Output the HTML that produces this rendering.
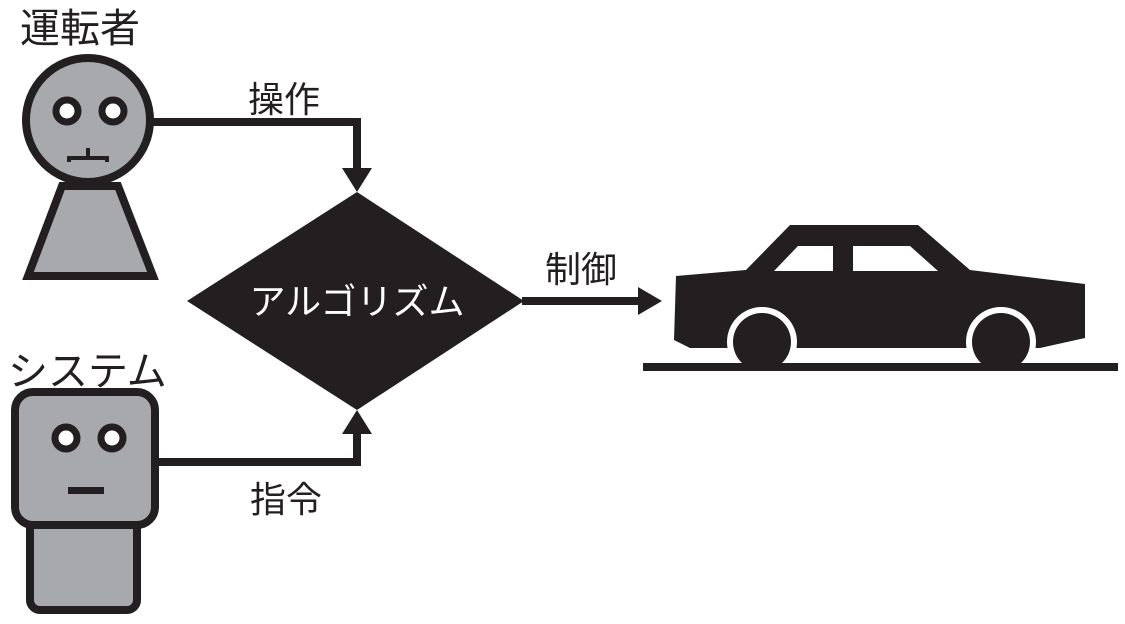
<!DOCTYPE html>
<html><head><meta charset="utf-8"><style>
html,body{margin:0;padding:0;background:#fff;}
svg text{font-family:"Liberation Sans","Noto Sans CJK JP",sans-serif;fill:#231f20;}
</style></head><body>
<svg width="1125" height="619" viewBox="0 0 1125 619" xmlns="http://www.w3.org/2000/svg">
<text x="20" y="42" font-size="40">運転者</text>
<text x="248" y="112" font-size="36">操作</text>
<text x="545" y="282" font-size="36">制御</text>
<text x="8" y="385" font-size="40">システム</text>
<text x="250" y="512" font-size="36">指令</text>
<!-- person -->
<polygon points="28,276 153,276 118,186 62,186" fill="#a7a9ac" stroke="#231f20" stroke-width="8" stroke-linejoin="miter"/>
<circle cx="88" cy="120" r="62" fill="#a7a9ac" stroke="#231f20" stroke-width="8"/>
<circle cx="67" cy="111" r="11" fill="#fff" stroke="#231f20" stroke-width="7"/>
<circle cx="113" cy="111" r="11" fill="#fff" stroke="#231f20" stroke-width="7"/>
<path d="M69,162 v-4 h38 v4 M88,158 v-10" fill="none" stroke="#231f20" stroke-width="4"/>
<!-- robot -->
<rect x="30" y="515" width="107" height="95" rx="10" fill="#a7a9ac" stroke="#231f20" stroke-width="8"/>
<rect x="15" y="392" width="140" height="133" rx="18" fill="#a7a9ac" stroke="#231f20" stroke-width="8"/>
<circle cx="66" cy="438" r="11" fill="#fff" stroke="#231f20" stroke-width="7"/>
<circle cx="112" cy="438" r="11" fill="#fff" stroke="#231f20" stroke-width="7"/>
<rect x="68" y="487" width="36" height="7" fill="#231f20"/>
<!-- connectors -->
<polyline points="150,122 357,122 357,172" fill="none" stroke="#231f20" stroke-width="8"/>
<polygon points="342,168 372,168 357,192" fill="#231f20"/>
<polyline points="155,462 357,462 357,430" fill="none" stroke="#231f20" stroke-width="8"/>
<polygon points="342,434 372,434 357,410" fill="#231f20"/>
<polygon points="357,192 524,301 357,410 187,301" fill="#231f20"/>
<text x="357" y="314" font-size="36" text-anchor="middle" style="fill:#fff">アルゴリズム</text>
<line x1="522" y1="301" x2="642" y2="301" stroke="#231f20" stroke-width="8"/>
<polygon points="638,287 662,301 638,315" fill="#231f20"/>
<!-- car -->
<polygon points="676,276 746,270 790,225 918,225 970,270 1085,284 1085,338 1040,348 690,348 674,340" fill="#231f20"/>
<polygon points="774,271 798,246 833,246 833,271" fill="#fff"/>
<polygon points="853,246 910,246 938,271 853,271" fill="#fff"/>
<circle cx="762" cy="342" r="35" fill="#fff"/>
<circle cx="1001" cy="342" r="35" fill="#fff"/>
<rect x="643" y="363" width="475" height="8" fill="#231f20"/>
<circle cx="762" cy="342" r="29" fill="#231f20"/>
<circle cx="1001" cy="342" r="29" fill="#231f20"/>
</svg>
</body></html>
